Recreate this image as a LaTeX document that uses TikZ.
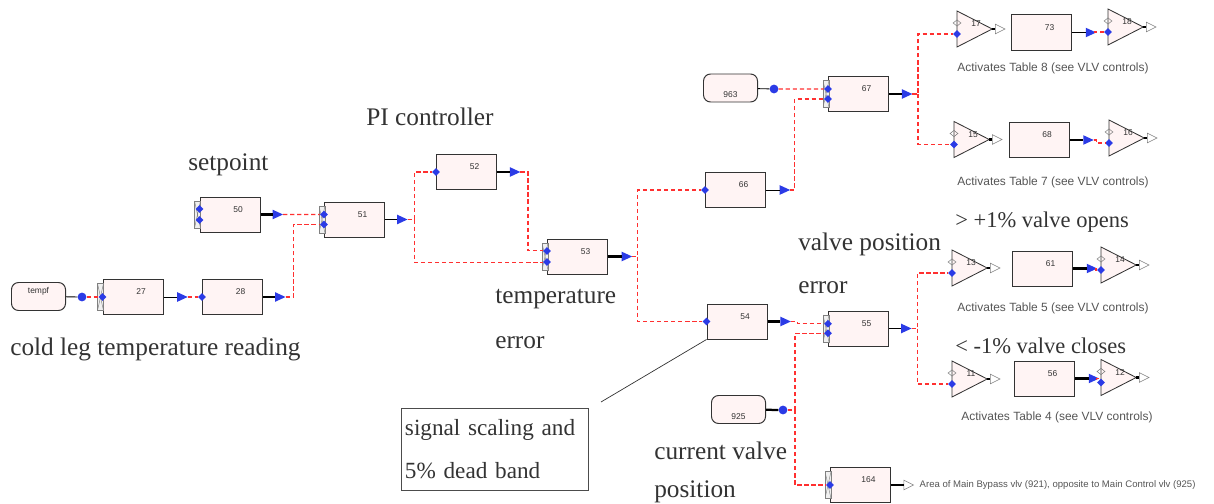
\documentclass[tikz,border=0pt]{standalone}
\usepackage{fontspec}
\setmainfont{Liberation Serif}
\setsansfont{Liberation Sans}
\usetikzlibrary{shapes.geometric,positioning}
\definecolor{blkfill}{HTML}{FFF4F4}
\definecolor{portblue}{HTML}{2B3BE6}
\definecolor{wirered}{HTML}{FF3030}
\definecolor{lblgray}{HTML}{333333}
\definecolor{notegray}{HTML}{555555}
\tikzset{
    blk/.style={
        rectangle,
        draw=black!80,
        fill=blkfill,
        line width=0.7pt,
        minimum width=1.5cm,
        minimum height=0.875cm,
        inner sep=0pt
    },
    src/.style={
        blk,
        rounded corners=5pt,
        minimum width=1.35cm,
        minimum height=0.7cm
    },
    gain/.style={
        isosceles triangle,
        isosceles triangle stretches=true,
        draw=black!80,
        fill=blkfill,
        line width=0.6pt,
        minimum width=0.9cm,
        minimum height=0.88cm,
        inner sep=0pt,
        outer sep=0pt,
        anchor=west
    },
    num/.style={
        font=\sffamily\fontsize{6}{7}\selectfont,
        text=black!80,
        xshift=0.2cm,
        yshift=0.125cm
    },
    inp/.style={
        diamond,
        fill=portblue,
        inner sep=0pt,
        minimum size=0.2cm
    },
    dotp/.style={
        circle,
        fill=portblue,
        inner sep=0pt,
        minimum size=0.22cm
    },
    outp/.style={
        isosceles triangle,
        isosceles triangle stretches=true,
        fill=portblue,
        inner sep=0pt,
        outer sep=0pt,
        minimum width=0.24cm,
        minimum height=0.26cm
    },
    hol/.style={
        isosceles triangle,
        isosceles triangle stretches=true,
        draw=gray,
        fill=white,
        line width=0.4pt,
        inner sep=0pt,
        outer sep=0pt,
        anchor=west,
        minimum width=0.24cm,
        minimum height=0.24cm
    },
    brk/.style={
        rectangle,
        draw=gray,
        fill=gray!12,
        line width=0.4pt,
        inner sep=0pt,
        minimum width=0.15cm,
        minimum height=0.68cm,
        path picture={
            \draw[gray,line width=0.3pt]
              (path picture bounding box.north west) -- (path picture bounding box.south east)
              (path picture bounding box.north east) -- (path picture bounding box.south west);
        }
    },
    eye/.style={
        diamond,
        draw=gray,
        line width=0.4pt,
        inner sep=0pt,
        minimum width=0.2cm,
        minimum height=0.16cm
    },
    lnk/.style={
        draw=black,
        line width=0.6pt
    },
    lnkb/.style={
        draw=black,
        line width=1.6pt
    },
    wire/.style={
        draw=wirered,
        line width=0.75pt,
        dash pattern=on 3pt off 2pt
    },
    lbl/.style={
        anchor=west,
        inner sep=0pt,
        text=lblgray,
        font=\fontsize{18}{20}\selectfont
    },
    note/.style={
        text=notegray,
        inner sep=0pt,
        font=\sffamily\fontsize{8.5}{10}\selectfont
    }
}
\begin{document}
\begin{tikzpicture}[x=0.025cm,y=-0.025cm]
\useasboundingbox (0,0) rectangle (1214,504);

% sources
\node[src,label={[num,xshift=-0.2cm]center:tempf}] (tempf) at (38.5,296.5) {};
\node[dotp] (tempfo) at (82,297) {};
\draw[lnk] (tempf) -- (tempfo);
\node[src,label={[num,xshift=-0.2cm,yshift=-0.3cm]center:963}] (s963) at (730.5,88) {};
\node[dotp] (s963o) at (774,89) {};
\draw[lnk] (s963) -- (s963o);
\node[src,label={[num,xshift=-0.2cm,yshift=-0.3cm]center:925}] (s925) at (738.5,409.5) {};
\node[dotp] (s925o) at (783,410) {};
\draw[lnkb] (s925) -- (s925o);

% blocks
\node[blk,label={[num]center:27}] (b27) at (133,297) {};
\node[brk] (b27k) at ([xshift=-0.05cm]b27.west) {};
\node[inp] (b27a) at (b27.west) {};
\node[outp] (b27o) at ([xshift=0.42cm]b27.east) {};
\draw[lnk] (b27) -- (b27o.west);

\node[blk,label={[num]center:28}] (b28) at (232.5,297) {};
\node[inp] (b28a) at (b28.west) {};
\node[outp] (b28o) at ([xshift=0.38cm]b28.east) {};
\draw[lnkb] (b28) -- (b28o.west);

\node[blk,label={[num]center:50}] (b50) at (230,214.5) {};
\node[brk] (b50k) at ([xshift=-0.05cm]b50.west) {};
\node[inp] (b50a) at ([yshift=0.14cm]b50.west) {};
\node[inp] (b50b) at ([yshift=-0.14cm]b50.west) {};
\node[outp] (b50o) at ([xshift=0.38cm]b50.east) {};
\draw[lnkb] (b50) -- (b50o.west);

\node[blk,label={[num]center:51}] (b51) at (354.5,219.5) {};
\node[brk] (b51k) at ([xshift=-0.05cm]b51.west) {};
\node[inp] (b51a) at ([yshift=0.125cm]b51.west) {};
\node[inp] (b51b) at ([yshift=-0.125cm]b51.west) {};
\node[outp] (b51o) at ([xshift=0.38cm]b51.east) {};
\draw[lnk] (b51) -- (b51o.west);

\node[blk,label={[num]center:52}] (b52) at (466.5,172) {};
\node[inp] (b52a) at (b52.west) {};
\node[outp] (b52o) at ([xshift=0.4cm]b52.east) {};
\draw[lnkb] (b52) -- (b52o.west);

\node[blk,label={[num]center:53}] (b53) at (577.5,256.5) {};
\node[brk] (b53k) at ([xshift=-0.05cm]b53.west) {};
\node[inp] (b53a) at ([yshift=0.14cm]b53.west) {};
\node[inp] (b53b) at ([yshift=-0.14cm]b53.west) {};
\node[outp] (b53o) at ([xshift=0.42cm]b53.east) {};
\draw[lnkb] (b53) -- (b53o.west);

\node[blk,label={[num]center:66}] (b66) at (735.5,190) {};
\node[inp] (b66a) at (b66.west) {};
\node[outp] (b66o) at ([xshift=0.42cm]b66.east) {};
\draw[lnk] (b66) -- (b66o.west);

\node[blk,label={[num]center:67}] (b67) at (858.5,94) {};
\node[brk] (b67k) at ([xshift=-0.05cm]b67.west) {};
\node[inp] (b67a) at ([yshift=0.125cm]b67.west) {};
\node[inp] (b67b) at ([yshift=-0.125cm]b67.west) {};
\node[outp] (b67o) at ([xshift=0.4cm]b67.east) {};
\draw[lnkb] (b67) -- (b67o.west);

\node[blk,label={[num]center:54}] (b54) at (737,321.5) {};
\node[inp] (b54a) at (b54.west) {};
\node[outp] (b54o) at ([xshift=0.4cm]b54.east) {};
\draw[lnkb] (b54) -- (b54o.west);

\node[blk,label={[num]center:55}] (b55) at (858.5,328.5) {};
\node[brk] (b55k) at ([xshift=-0.05cm]b55.west) {};
\node[inp] (b55a) at ([yshift=0.12cm]b55.west) {};
\node[inp] (b55b) at ([yshift=-0.12cm]b55.west) {};
\node[outp] (b55o) at ([xshift=0.38cm]b55.east) {};
\draw[lnk] (b55) -- (b55o.west);

\node[blk,label={[num]center:164}] (b164) at (860.5,485) {};
\node[brk] (b164k) at ([xshift=-0.05cm]b164.west) {};
\node[inp] (b164a) at (b164.west) {};
\node[hol] (b164h) at ([xshift=0.32cm]b164.east) {};
\draw[lnkb] (b164) -- (b164h.west);
\node[note,anchor=west,right=0.15cm of b164h,font=\sffamily\fontsize{6.8}{8}\selectfont] (t164)
  {Area of Main Bypass vlv (921), opposite to Main Control vlv (925)};

\node[blk,label={[num]center:73}] (b73) at (1041.5,32.5) {};
\node[outp] (b73o) at ([xshift=0.42cm]b73.east) {};
\draw[lnk] (b73) -- (b73o.west);
\node[blk,label={[num]center:68}] (b68) at (1039,140) {};
\node[outp] (b68o) at ([xshift=0.42cm]b68.east) {};
\draw[lnkb] (b68) -- (b68o.west);
\node[blk,label={[num]center:61}] (b61) at (1042.5,268.5) {};
\node[outp] (b61o) at ([xshift=0.42cm]b61.east) {};
\draw[lnkb] (b61) -- (b61o.west);
\node[blk,label={[num]center:56}] (b56) at (1044.5,378.5) {};
\node[outp] (b56o) at ([xshift=0.42cm]b56.east) {};
\draw[lnkb] (b56) -- (b56o.west);

% gains
\foreach \g/\gx/\gy in {17/957/29,18/1108/27,15/954/139.5,16/1109/138,13/952/268,14/1101/265,11/952/379,12/1101/377.5}{
  \node[gain,label={[num,xshift=0cm,yshift=0cm]center:\g}] (t\g) at (\gx,\gy) {};
  \node[eye] (t\g e) at ([yshift=0.15cm]t\g.west) {};
  \node[inp] (t\g a) at ([yshift=-0.125cm]t\g.west) {};
  \node[hol] (t\g h) at ([xshift=0.08cm]t\g.apex) {};
  \draw[lnkb] (t\g.apex) -- (t\g h.west);
}

% signal wires
\draw[wire] (tempfo) -- (b27a);
\draw[wire] (b27o) -- (b28a);
\draw[wire] (b28o) -- ++(15,0) |- (b51b);
\draw[wire] (b50o) -- (b51a);
\draw[wire] (b51o) -- ++(14,0) coordinate (j51) |- (b52a);
\draw[wire] (j51) |- (b53b);
\draw[wire] (b52o) -- ++(15,0) |- (b53a);
\draw[wire] (b53o) -- ++(13,0) coordinate (j53) |- (b66a);
\draw[wire] (j53) |- (b54a);
\draw[wire] (b66o) -- ++(12,0) |- (b67b);
\draw[wire] (s963o) -- (b67a);
\draw[wire] (b67o) -- ++(13,0) coordinate (j67) |- (t17a);
\draw[wire] (j67) |- (t15a);
\draw[wire] (b73o) -- ++(6,0) |- (t18a);
\draw[wire] (b68o) -- ++(10,0) |- (t16a);
\draw[wire] (b54o) -- ++(14,0) |- (b55a);
\draw[wire] (s925o) -- ++(12,0) coordinate (j925) |- (b55b);
\draw[wire] (j925) |- (b164a);
\draw[wire] (b55o) -- ++(13,0) coordinate (j55) |- (t13a);
\draw[wire] (j55) |- (t11a);
\draw[wire] (b61o) -- ++(6,0) |- (t14a);
\draw[wire] (b56o) -- ++(5,0) |- (t12a);

% notes
\node[note] (n8) at (1053,68) {Activates Table 8 (see VLV controls)};
\node[note] (n7) at (1053,182) {Activates Table 7 (see VLV controls)};
\node[note] (n5) at (1053,308) {Activates Table 5 (see VLV controls)};
\node[note] (n4) at (1057,417) {Activates Table 4 (see VLV controls)};

% labels
\node[lbl] (lsp) at (188,165) {setpoint};
\node[lbl] (lpi) at (366,117) {PI controller};
\node[lbl] (lcl) at (10,349) {cold leg temperature reading};
\node[lbl] (lte1) at (495,299) {temperature};
\node[lbl] (lte2) at (495,342.5) {error};
\node[lbl] (lvp1) at (798,244) {valve position};
\node[lbl] (lvp2) at (798,288) {error};
\node[lbl] (lcv1) at (654,451) {current valve};
\node[lbl] (lcv2) at (654,492) {position};
\node[lbl,font=\fontsize{16}{18}\selectfont] (lop) at (955,222) {> +1\% valve opens};
\node[lbl,font=\fontsize{16}{18}\selectfont] (lcs) at (955,346) {< -1\% valve closes};

% callout
\node[draw=black!70,line width=0.6pt,inner sep=0.1cm,minimum height=2.05cm,
  text width=4.475cm,align=left,text=lblgray,font=\fontsize{16.5}{30.6}\selectfont]
  (cbox) at (494.5,449) {signal scaling and\\5\% dead band};
\coordinate (cl) at (601,402);
\draw[line width=0.5pt,black!80] (b54.south west) -- (cl);
\end{tikzpicture}
\end{document}
